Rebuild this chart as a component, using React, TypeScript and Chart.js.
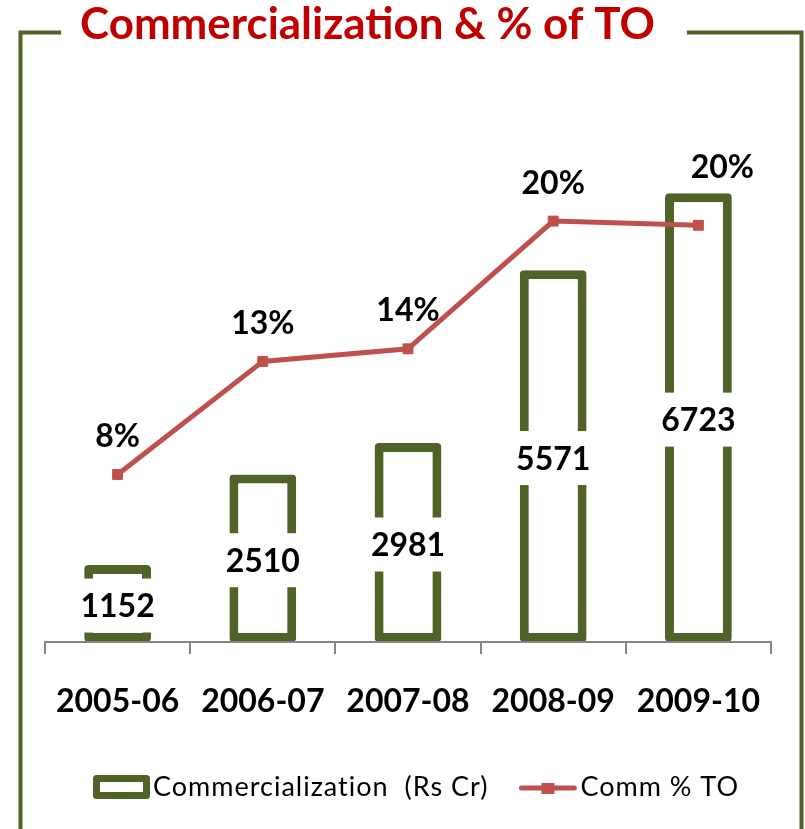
import React, { useEffect, useRef } from 'react';
import { Chart, registerables } from 'chart.js';

Chart.register(...registerables);

// ---- data ----
const categories = ['2005-06', '2006-07', '2007-08', '2008-09', '2009-10'];
const commercialization = [1152, 2510, 2981, 5571, 6723];
const commPctTO = [8.0, 13.4, 14.0, 20.1, 19.9];
const barSeriesName = 'Commercialization  (Rs Cr)';
const lineSeriesName = 'Comm % TO';
const chartTitle = 'Commercialization & % of TO';

// ---- style ----
const GREEN = '#4F6228';
const RED = '#C0504D';
const TITLE_RED = '#C00000';
const AXIS_GRAY = '#868686';
const FONT = 'Lato';
const W = 805;
const H = 829;

const decorPlugin = {
  id: 'decor',
  beforeDraw(chart: any) {
    const ctx: CanvasRenderingContext2D = chart.ctx;
    ctx.save();
    // title
    let size = 40;
    ctx.font = `bold ${size}px ${FONT}`;
    const w0 = ctx.measureText(chartTitle).width;
    size = Math.max(34, Math.min(46, (size * 575) / w0));
    ctx.font = `bold ${size}px ${FONT}`;
    const tw = ctx.measureText(chartTitle).width;
    const tx = 367.5 - tw / 2;
    ctx.fillStyle = TITLE_RED;
    ctx.textAlign = 'left';
    ctx.textBaseline = 'alphabetic';
    ctx.fillText(chartTitle, tx, 39);
    // frame
    ctx.strokeStyle = GREEN;
    ctx.lineWidth = 4;
    ctx.lineJoin = 'miter';
    ctx.beginPath();
    ctx.moveTo(tx - 19, 32.5);
    ctx.lineTo(20.5, 32.5);
    ctx.lineTo(20.5, H + 10);
    ctx.stroke();
    ctx.beginPath();
    ctx.moveTo(tx + tw + 32, 32.5);
    ctx.lineTo(801.5, 32.5);
    ctx.lineTo(801.5, H + 10);
    ctx.stroke();
    ctx.restore();
  },
  afterDatasetsDraw(chart: any) {
    const ctx: CanvasRenderingContext2D = chart.ctx;
    const barMeta = chart.getDatasetMeta(0);
    const lineMeta = chart.getDatasetMeta(1);
    ctx.save();
    const fs = 32;
    ctx.font = `bold ${fs}px ${FONT}`;
    ctx.textAlign = 'center';
    ctx.textBaseline = 'alphabetic';
    // bar value labels (centered, white box)
    barMeta.data.forEach((el: any, i: number) => {
      const p = el.getProps(['x', 'y', 'base'], true);
      const text = String(chart.data.datasets[0].data[i]);
      const tw = ctx.measureText(text).width;
      const cy = (p.y + p.base) / 2 + 2;
      ctx.fillStyle = '#FFFFFF';
      ctx.fillRect(p.x - tw / 2 - 4, cy - 27, tw + 8, 54);
      ctx.fillStyle = '#000000';
      ctx.fillText(text, p.x, cy + 0.358 * fs);
    });
    // line labels (above points)
    lineMeta.data.forEach((pt: any, i: number) => {
      const v = chart.data.datasets[1].data[i];
      const text = Math.round(v) + '%';
      const tw = ctx.measureText(text).width;
      let lx = pt.x;
      let ly = pt.y - 39;
      const bar = barMeta.data[i].getProps(['x', 'y', 'width'], true);
      if (ly + 27 > bar.y && Math.abs(bar.x - lx) < bar.width / 2 + tw / 2) {
        ly = bar.y - 27;
        lx += 24;
      }
      ctx.fillStyle = '#000000';
      ctx.fillText(text, lx, ly + 0.358 * fs);
    });
    ctx.restore();
  },
  afterDraw(chart: any) {
    const ctx: CanvasRenderingContext2D = chart.ctx as any;
    const ds = chart.data.datasets;
    ctx.save();
    const cy = 787;
    let x = 93;
    // bar swatch
    ctx.lineWidth = 7;
    ctx.strokeStyle = ds[0].borderColor;
    ctx.fillStyle = '#FFFFFF';
    ctx.lineJoin = 'round';
    ctx.beginPath();
    ctx.rect(x + 3.5, cy - 8.5, 50, 17);
    ctx.fill();
    ctx.stroke();
    ctx.font = `27px ${FONT}`;
    (ctx as any).letterSpacing = '1px';
    ctx.fillStyle = '#000000';
    ctx.textAlign = 'left';
    ctx.textBaseline = 'alphabetic';
    ctx.fillText(ds[0].label, x + 60, 796);
    x = x + 60 + ctx.measureText(ds[0].label).width + 31;
    // line swatch
    ctx.strokeStyle = ds[1].borderColor;
    ctx.lineWidth = 5;
    ctx.lineCap = 'round';
    ctx.beginPath();
    ctx.moveTo(x + 2, cy + 1);
    ctx.lineTo(x + 55, cy + 1);
    ctx.stroke();
    ctx.fillStyle = ds[1].borderColor;
    ctx.fillRect(x + 22, cy - 4, 13, 11);
    ctx.fillStyle = '#000000';
    ctx.fillText(ds[1].label, x + 61, 796);
    ctx.restore();
  },
};

export default function App() {
  const ref = useRef<HTMLCanvasElement>(null);
  useEffect(() => {
    if (!ref.current) return;
    const chart = new Chart(ref.current, {
      type: 'bar',
      data: {
        labels: categories,
        datasets: [
          {
            type: 'bar',
            label: barSeriesName,
            data: commercialization,
            yAxisID: 'y',
            backgroundColor: '#FFFFFF',
            borderColor: GREEN,
            borderWidth: 9,
            borderSkipped: false,
            borderRadius: 4,
            barPercentage: 0.46,
            categoryPercentage: 1,
            order: 2,
          } as any,
          {
            type: 'line',
            label: lineSeriesName,
            data: commPctTO,
            yAxisID: 'y1',
            borderColor: RED,
            backgroundColor: RED,
            borderWidth: 5,
            pointStyle: 'rect',
            pointRadius: 7,
            pointBorderWidth: 1,
            pointBackgroundColor: RED,
            pointBorderColor: RED,
            tension: 0,
            order: 1,
            clip: false,
          } as any,
        ],
      },
      options: {
        responsive: false,
        animation: false,
        devicePixelRatio: 1,
        layout: { padding: { top: 108, left: 45, right: 34, bottom: 0 } },
        plugins: {
          legend: { display: false },
          title: { display: false },
          tooltip: { enabled: false },
        },
        scales: {
          x: {
            offset: true,
            grid: {
              offset: true,
              drawOnChartArea: false,
              drawTicks: true,
              tickLength: 12,
              color: AXIS_GRAY,
              lineWidth: 2,
            },
            border: { display: true, color: AXIS_GRAY, width: 2, z: 1 },
            ticks: {
              font: { family: FONT, size: 32, weight: 'bold' },
              color: '#000000',
              padding: 28,
              maxRotation: 0,
              autoSkip: false,
            },
            afterFit: (s: any) => {
              s.height = 187;
            },
          },
          y: { display: false, min: 0, max: 8000 },
          y1: { display: false, min: 0, max: 25.5, position: 'right' },
        },
      } as any,
      plugins: [decorPlugin],
    });
    return () => chart.destroy();
  }, []);

  return (
    <div style={{ position: 'absolute', left: 0, top: 0, width: W, height: H, background: '#FFFFFF' }}>
      <canvas ref={ref} width={W} height={H} style={{ width: W, height: H, display: 'block' }} />
    </div>
  );
}
